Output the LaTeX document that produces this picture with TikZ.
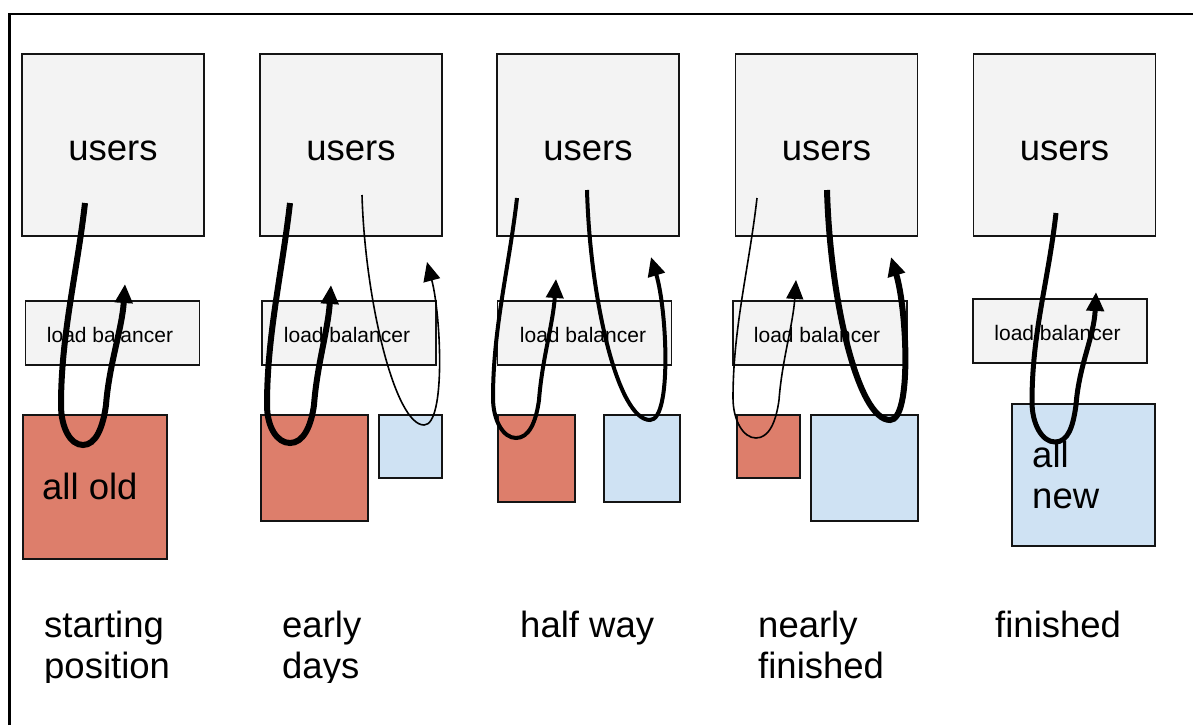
\documentclass[tikz,border=0pt]{standalone}
\usepackage{fontspec}
\setmainfont{Liberation Sans}
\usetikzlibrary{arrows.meta}
\definecolor{boxgray}{HTML}{F3F3F3}
\definecolor{oldred}{HTML}{DD7E6B}
\definecolor{newblue}{HTML}{CFE2F3}
\begin{document}
\begin{tikzpicture}[x=1pt,y=-1pt,
  frame/.style={draw=black!92, line width=1.6pt},
  userbox/.style={frame, fill=boxgray, minimum width=182pt, minimum height=182pt, inner sep=0pt},
  lbbox/.style={frame, fill=boxgray, minimum width=174pt, minimum height=64pt, inner sep=0pt},
  oldbox/.style={frame, fill=oldred, anchor=north west, inner sep=0pt},
  newbox/.style={frame, fill=newblue, anchor=north west, inner sep=0pt},
  bigtxt/.style={font=\fontsize{36.5}{41}\selectfont, inner sep=0pt, text=black},
  lbtxt/.style={font=\fontsize{21}{26}\selectfont, inner sep=0pt, text=black, anchor=base},
  flow/.style={draw=black, -{Triangle[length=19pt,width=17pt]}},
]
\fill[white] (0,0) rectangle (1193,725);
\useasboundingbox (0,0) rectangle (1193,725);
\draw[line width=2.6pt] (9.5,725) -- (9.5,14) -- (1193,14);

% users boxes
\node[userbox] (u1) at (113,145) {};
\node[userbox] (u2) at (351,145) {};
\node[userbox] (u3) at (588,145) {};
\node[userbox] (u4) at (826.5,145) {};
\node[userbox] (u5) at (1064.5,145) {};
\foreach \n/\x in {1/113,2/351,3/588,4/826.5,5/1064.5}
  \node[bigtxt, anchor=base] (ut\n) at (\x,160) {users};

% load balancers
\node[lbbox] (lb1) at (112.5,333) {};
\node[lbbox] (lb2) at (349,333) {};
\node[lbbox] (lb3) at (584.5,333) {};
\node[lbbox] (lb4) at (820,333) {};
\node[lbbox] (lb5) at (1060,331) {};
\node[lbtxt] (lt1) at (110,342) {load balancer};
\node[lbtxt] (lt2) at (347,342) {load balancer};
\node[lbtxt] (lt3) at (583,342) {load balancer};
\node[lbtxt] (lt4) at (817,342) {load balancer};
\node[lbtxt] (lt5) at (1057.5,340) {load balancer};

% servers
\node[oldbox, minimum width=144pt, minimum height=144pt] (o1) at (22,414) {};
\node[oldbox, minimum width=107pt, minimum height=106pt] (o2) at (260,414) {};
\node[newbox, minimum width=63pt, minimum height=63pt] (n2) at (378,414) {};
\node[oldbox, minimum width=77pt, minimum height=87pt] (o3) at (497,414) {};
\node[newbox, minimum width=76pt, minimum height=87pt] (n3) at (603,414) {};
\node[oldbox, minimum width=63pt, minimum height=63pt] (o4) at (736,414) {};
\node[newbox, minimum width=107pt, minimum height=106pt] (n4) at (810,414) {};
\node[newbox, minimum width=143pt, minimum height=142pt] (n5) at (1011,403) {};

\node[bigtxt, anchor=base west] (allold) at (42,499) {all old};
\node[bigtxt, anchor=base west] (allnew1) at (1032,467) {all};
\node[bigtxt, anchor=base west] (allnew2) at (1032,508) {new};

% bottom labels
\begin{scope}
\clip (0,0) rectangle (1193,682);
\node[bigtxt, anchor=base west] (c1a) at (44,637) {starting};
\node[bigtxt, anchor=base west] (c1b) at (44,678) {position};
\node[bigtxt, anchor=base west] (c2a) at (282,637) {early};
\node[bigtxt, anchor=base west] (c2b) at (282,678) {days};
\node[bigtxt, anchor=base west] (c3a) at (520,637) {half way};
\node[bigtxt, anchor=base west] (c4a) at (758,637) {nearly};
\node[bigtxt, anchor=base west] (c4b) at (758,678) {finished};
\node[bigtxt, anchor=base west] (c5a) at (995,637) {finished};
\end{scope}

% flow endpoints
\coordinate (f1s) at (85,203);    \coordinate (f1e) at (125,284);
\coordinate (f2s) at (290,203);   \coordinate (f2e) at (331,285);
\coordinate (g2s) at (362,195);   \coordinate (g2e) at (427,262);
\coordinate (f3s) at (517,198);   \coordinate (f3e) at (556,279);
\coordinate (g3s) at (587,190);   \coordinate (g3e) at (651,257);
\coordinate (f4s) at (757,198);   \coordinate (f4e) at (796,280);
\coordinate (g4s) at (827,190);   \coordinate (g4e) at (891,257);
\coordinate (f5s) at (1056,213);  \coordinate (f5e) at (1096,292);

% flows
\draw[flow, line width=6pt] (f1s) .. controls +(-8,70) and +(0,-70) .. (61,405)
  .. controls +(0,22) and +(-13,0) .. (83,445)
  .. controls +(13,0) and +(-3,22) .. (106,405)
  .. controls +(3,-40) and +(-3,45) .. (f1e);
\draw[flow, line width=6pt] (f2s) .. controls +(-8,70) and +(0,-70) .. (267,405)
  .. controls +(0,22) and +(-13,0) .. (290,443)
  .. controls +(13,0) and +(-3,22) .. (314,405)
  .. controls +(3,-40) and +(-3,45) .. (f2e);
\draw[flow, line width=1.6pt] (g2s) .. controls +(3,105) and +(-29,0) .. (424,425)
  .. controls +(22,0) and +(14,53) .. (g2e);
\draw[flow, line width=4pt] (f3s) .. controls +(-8,70) and +(0,-70) .. (493,398)
  .. controls +(0,22) and +(-13,0) .. (516,438)
  .. controls +(13,0) and +(-3,22) .. (539,400)
  .. controls +(3,-40) and +(-3,45) .. (f3e);
\draw[flow, line width=4pt] (g3s) .. controls +(3,110) and +(-32,0) .. (650,420)
  .. controls +(22,0) and +(16,53) .. (g3e);
\draw[flow, line width=1.6pt] (f4s) .. controls +(-8,70) and +(0,-70) .. (733,398)
  .. controls +(0,22) and +(-13,0) .. (756,438)
  .. controls +(13,0) and +(-3,22) .. (779,400)
  .. controls +(3,-40) and +(-3,45) .. (f4e);
\draw[flow, line width=6pt] (g4s) .. controls +(3,110) and +(-32,0) .. (890,420)
  .. controls +(22,0) and +(16,53) .. (g4e);
\draw[flow, line width=5pt] (f5s) .. controls +(-8,70) and +(0,-70) .. (1032,402)
  .. controls +(0,22) and +(-13,0) .. (1055,442)
  .. controls +(13,0) and +(-3,22) .. (1076,405)
  .. controls +(3,-40) and +(-2,45) .. (f5e);
\end{tikzpicture}
\end{document}
